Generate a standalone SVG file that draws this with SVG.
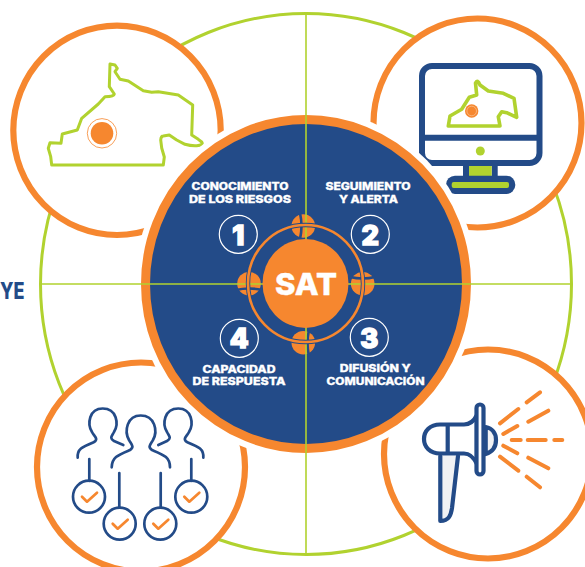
<svg xmlns="http://www.w3.org/2000/svg" width="585" height="567" viewBox="0 0 585 567">
<style>
.t{font-family:"Inter","Liberation Sans",sans-serif;font-weight:800;fill:#fff;text-anchor:middle;font-size:10.4px;stroke:#fff;stroke-width:.3}
.ring{fill:#fff;stroke:#f6872f;stroke-width:6.200}
.g{fill:none;stroke:#b1d22f;stroke-width:3;stroke-linejoin:round;stroke-linecap:round}
.b{fill:none;stroke:#234b88;stroke-width:2.700;stroke-linecap:round;stroke-linejoin:round}
.o{fill:none;stroke:#f6872f;stroke-width:2.700;stroke-linecap:round;stroke-linejoin:round}
.m{stroke:#234b88;stroke-width:4.200;stroke-linecap:round;stroke-linejoin:round}
.s{fill:none;stroke:#234b88;stroke-width:6}
.n{fill:#fff;stroke:#fff;stroke-width:1.600;font-family:"Inter","Liberation Sans",sans-serif;font-weight:800;font-size:27.500px;text-anchor:middle}
.c{fill:none;stroke:#fff;stroke-width:1.200}
.co{fill:#f6872f}
.band{fill:none;stroke:#234b88;stroke-width:2.600}
</style>
<rect width="585" height="567" fill="#fff"/>
<g id="connectors">
<ellipse cx="306" cy="284" rx="265.500" ry="270.500" fill="#fff" stroke="#b1d22f" stroke-width="3"/>
</g>
<text id="fragment" x="0" y="298.500" textLength="24.500" lengthAdjust="spacingAndGlyphs" style="font-family:'Inter','Liberation Sans',sans-serif;font-weight:800;font-size:23px;fill:#234b88">YE</text>
<g id="node-map">
<ellipse class="ring" cx="117" cy="130.300" rx="103.700" ry="104.700"/>
<path class="g" d="M51.700 165 L163.300 165 L164.300 157 L161.700 148 L160.700 140 Q161 136 163.300 136 L169.300 135 L176.700 140 L185 144.300 Q191 146 196.700 145.700 Q204 145 201.700 142 L198.300 139.300 L191.700 135 L192.700 105 L178.300 95 L158.300 91.700 L151.700 92.300 L143.300 90.700 L128.300 81 L120 79.300 L115 71.700 L117.300 68.300 L115 65 L110 64 L109.300 86.700 L114.300 94 Q114 96.500 105 96.700 L98.300 104 L81.700 118.300 L77.300 130 L62.300 134 L61 143.300 L50 142.700 L48.300 148.300 L50.700 156.700 Z"/>
<circle cx="102" cy="133.300" r="11.300" fill="#f6872f"/>
<circle cx="102" cy="133.300" r="14.700" fill="none" stroke="#f6872f" stroke-width=".8"/>
</g>
<g id="node-monitor">
<ellipse class="ring" cx="477.500" cy="123" rx="104" ry="104.500"/>
<rect x="422" y="66" width="117.500" height="97" rx="10" fill="#fff" class="s"/>
<path class="s" d="M422 137.700 H539.500 M466 163 V178 M494.700 163 V178"/>
<rect x="469" y="166" width="22.700" height="10" fill="#b1d22f"/>
<rect x="446" y="175.700" width="69.300" height="18.300" rx="9" fill="#234b88"/>
<rect x="451.700" y="182" width="57.300" height="6" rx="2" fill="#b1d22f"/>
<circle cx="480.300" cy="151" r="4.500" fill="#b1d22f"/>
<path class="g" style="stroke-width:3.600" d="M448.300 126 L500 126 L498.300 116.700 L501.700 111.700 L506.700 112.700 L516.700 117.300 L514 98.300 L503.300 93.300 L488.300 91 L480 85 Q477.500 79 475.500 83 L476.700 95 L469.300 97.300 L461.700 109.300 L450 116 Z"/>
<circle cx="471.700" cy="111" r="6.700" fill="#f6872f"/>
<circle cx="471.700" cy="111" r="4.800" fill="none" stroke="#fbd0ac" stroke-width=".6"/>
</g>
<g id="node-team">
<ellipse class="ring" cx="141" cy="467" rx="104" ry="104.500"/>
<path class="b" d="M77.700 457.700 C77 449 82 447 94 442 C99 439 94 436 92 432 C87 424 89 408.500 102.700 408.500 C117 408.500 119 424 114 432 C112 436 109 438 114 441 L123.300 445"/>
<path class="b" d="M203.300 457.700 C204 449 199 447 187 442 C182 439 187 436 189 432 C194 424 192 408.500 178.300 408.500 C164 408.500 162 424 167 432 C169 436 172 438 167 441 L158.300 445"/>
<path class="b" d="M111.700 467.300 C112 457 118 455 130 450 C135 447 131 444 129 440 C124 431 127 415.500 140.700 415.500 C155 415.500 158 431 153 440 C151 444 147 447 152 450 C164 455 170 457 170 467.300"/>
<path class="b" d="M89.300 459 V481 M119.300 473 V507.700 M160.700 473 V507.700 M191.300 459 V481"/>
<circle class="b" cx="89" cy="496.700" r="16"/><circle class="b" cx="119.700" cy="523.700" r="16"/><circle class="b" cx="160.300" cy="523.700" r="16"/><circle class="b" cx="191.300" cy="496.700" r="16"/>
<path class="o" d="M82 496.700 L87 501.700 L97 492.700"/><path class="o" d="M112.700 523.700 L117.700 528.700 L127.700 519.700"/><path class="o" d="M153.300 523.700 L158.300 528.700 L168.300 519.700"/><path class="o" d="M184.300 496.700 L189.300 501.700 L199.300 492.700"/>
</g>
<g id="node-megaphone">
<ellipse class="ring" cx="488" cy="454" rx="104" ry="104.500"/>
<path class="m" fill="#f1f2f4" d="M485.700 427 C492 428 496 433 496 440 C496 447 492 452 485.700 454 Z"/>
<path class="m" fill="#fff" d="M477 415 C474 421 470 424.500 464 424.500 H440 C430 424.500 424 431 424 439 C424 447 430 453.500 440 453.500 H464 C470 453.500 474 458 477 464 Z"/>
<rect class="m" x="476.500" y="404.500" width="7" height="70" rx="3.500" fill="#fff"/>
<path class="m" fill="none" d="M447.700 425 V453"/>
<path class="m" fill="#f1f2f4" d="M440.300 456 L440.300 521 C449 521 451 515 452 508 L458 456"/>
<path d="M500 423.300 L518.300 409 M526.700 402.300 L540 392.300 M503.300 434 L517.300 426 M528.300 421.700 L548.300 410.700 M511.700 440 H520.700 M527.700 440 H545.700 M554.300 440 H562.300 M503.300 445.700 L517.300 453.300 M500 456.700 L518.300 470.700 M528.300 457.700 L548.300 468.300 M526.700 476.700 L540 487.300" fill="none" stroke="#f6872f" stroke-width="4" stroke-linecap="round"/>
</g>
<g id="node-core">
<ellipse cx="306" cy="284" rx="171" ry="175" fill="#fff"/>
<ellipse cx="306" cy="284" rx="160.500" ry="164.500" fill="#234b88" stroke="#f6872f" stroke-width="9"/>
<g id="couplings">
<circle class="co" cx="303.300" cy="226" r="11.800"/><circle class="co" cx="362.700" cy="283.700" r="11.800"/><circle class="co" cx="303.300" cy="342.700" r="11.800"/><circle class="co" cx="249" cy="283.700" r="11.800"/>
<path class="band" d="M300 213 Q303 226 300 239 M309 330 Q306 343 309 356 M236 290 Q249 287 262 290 M350 277 Q363 280 375 277"/>
</g>
</g>
<g id="cross"><path d="M306 13 V555 M40 284 H572" fill="none" stroke="#b1d22f" stroke-width="1.600"/></g>
<g id="node-sat">
<ellipse cx="305.500" cy="283.500" rx="57.500" ry="58.500" fill="none" stroke="#234b88" stroke-width="4.400"/>
<ellipse cx="305.500" cy="283.500" rx="57.500" ry="58.500" fill="none" stroke="#f6872f" stroke-width="2.600"/>
<ellipse cx="305.500" cy="283.500" rx="43" ry="44.500" fill="#f6872f"/>
<text x="306" y="295" textLength="62" lengthAdjust="spacingAndGlyphs" style="font-family:'Inter','Liberation Sans',sans-serif;font-weight:800;font-size:30px;fill:#fff;stroke:#fff;stroke-width:.4;text-anchor:middle">SAT</text>
</g>
<g id="node-1"><text class="t" x="240" y="190" textLength="97" lengthAdjust="spacingAndGlyphs">CONOCIMIENTO</text><text class="t" x="240" y="202.500" textLength="102" lengthAdjust="spacingAndGlyphs">DE LOS RIESGOS</text><circle class="c" cx="238.300" cy="234.300" r="19"/><text class="n" x="238.300" y="245">1</text></g>
<g id="node-2"><text class="t" x="368" y="190" textLength="85" lengthAdjust="spacingAndGlyphs">SEGUIMIENTO</text><text class="t" x="368.500" y="202.500" textLength="59" lengthAdjust="spacingAndGlyphs">Y ALERTA</text><circle class="c" cx="370.300" cy="234.300" r="19"/><text class="n" x="370.300" y="245">2</text></g>
<g id="node-3"><text class="t" x="375.300" y="372.300" textLength="71" lengthAdjust="spacingAndGlyphs">DIFUSIÓN Y</text><text class="t" x="375.500" y="385" textLength="98" lengthAdjust="spacingAndGlyphs">COMUNICACIÓN</text><circle class="c" cx="369.300" cy="337.300" r="19"/><text class="n" x="369.300" y="348">3</text></g>
<g id="node-4"><text class="t" x="239" y="372.700" textLength="73" lengthAdjust="spacingAndGlyphs">CAPACIDAD</text><text class="t" x="239" y="385" textLength="93" lengthAdjust="spacingAndGlyphs">DE RESPUESTA</text><circle class="c" cx="239.300" cy="338.300" r="19"/><text class="n" x="239.300" y="348.300">4</text></g>
</svg>
